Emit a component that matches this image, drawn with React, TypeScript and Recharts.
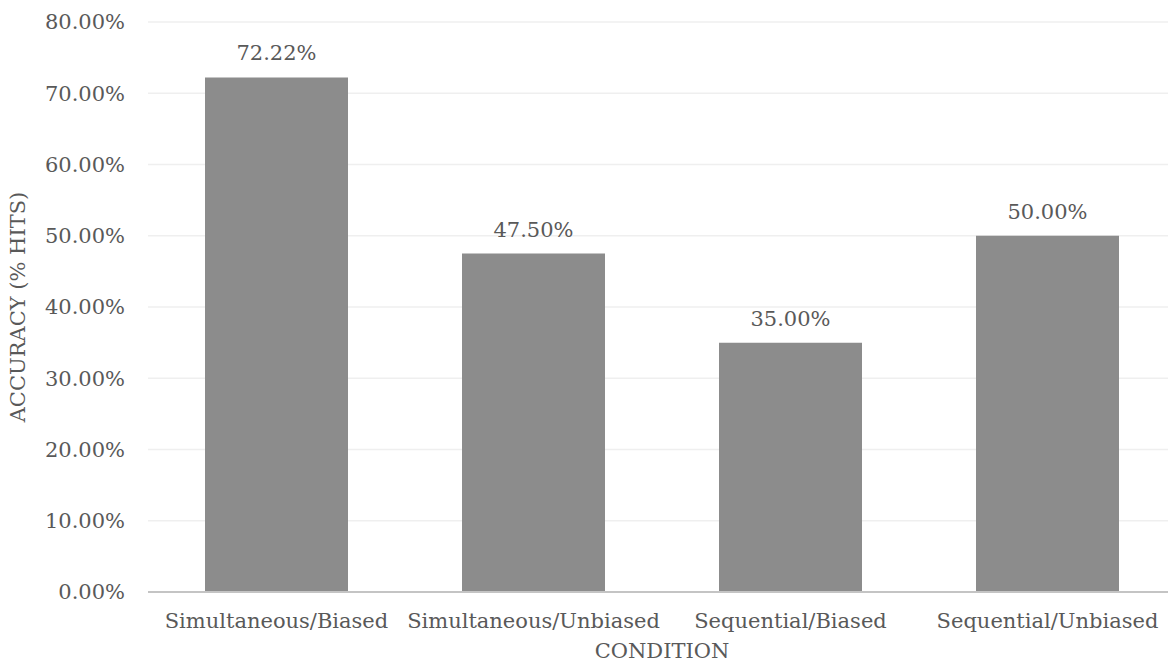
import { Bar, BarChart, CartesianGrid, LabelList, XAxis, YAxis } from "recharts";

const conditions = [
  "Simultaneous/Biased",
  "Simultaneous/Unbiased",
  "Sequential/Biased",
  "Sequential/Unbiased",
];
const accuracy = [72.22, 47.5, 35.0, 50.0];
const yTicks = [0, 10, 20, 30, 40, 50, 60, 70, 80];

const data = conditions.map((condition, i) => ({
  condition,
  accuracy: accuracy[i],
}));

const FONT = "'DejaVu Serif', serif";
const TEXT = "#595959";
const SIZE = 21;

const pct = (v: unknown) => `${Number(v).toFixed(2)}%`;

export default function App() {
  return (
    <div
      style={{
        position: "absolute",
        left: 0,
        top: 0,
        width: 1168,
        height: 668,
        overflow: "hidden",
        background: "#fff",
      }}
    >
      <BarChart
        width={1176}
        height={668}
        data={data}
        margin={{ top: 22, right: 0, bottom: 0, left: 0 }}
        style={{ fontFamily: FONT }}
      >
        <CartesianGrid vertical={false} stroke="#efefef" strokeWidth={1.5} />
        <XAxis
          dataKey="condition"
          height={76}
          tickLine={false}
          axisLine={{ stroke: "#c4c4c4", strokeWidth: 2 }}
          tick={{ fill: TEXT, fontSize: SIZE, fontFamily: FONT }}
          tickMargin={15}
          interval={0}
          label={{
            value: "CONDITION",
            position: "insideBottom",
            offset: 10,
            fill: TEXT,
            fontSize: SIZE,
            fontFamily: FONT,
          }}
        />
        <YAxis
          width={148}
          domain={[0, 80]}
          ticks={yTicks}
          tickFormatter={pct}
          tickLine={false}
          axisLine={false}
          tickMargin={17}
          tick={{ fill: TEXT, fontSize: SIZE, fontFamily: FONT }}
          label={{
            value: "ACCURACY (% HITS)",
            angle: -90,
            position: "insideLeft",
            offset: 18,
            style: { textAnchor: "middle" },
            fill: TEXT,
            fontSize: SIZE,
            fontFamily: FONT,
          }}
        />
        <Bar dataKey="accuracy" fill="#8c8c8c" barSize={143} isAnimationActive={false}>
          <LabelList
            dataKey="accuracy"
            position="top"
            offset={17}
            formatter={pct}
            fill={TEXT}
            fontSize={SIZE}
            fontFamily={FONT}
          />
        </Bar>
      </BarChart>
    </div>
  );
}
